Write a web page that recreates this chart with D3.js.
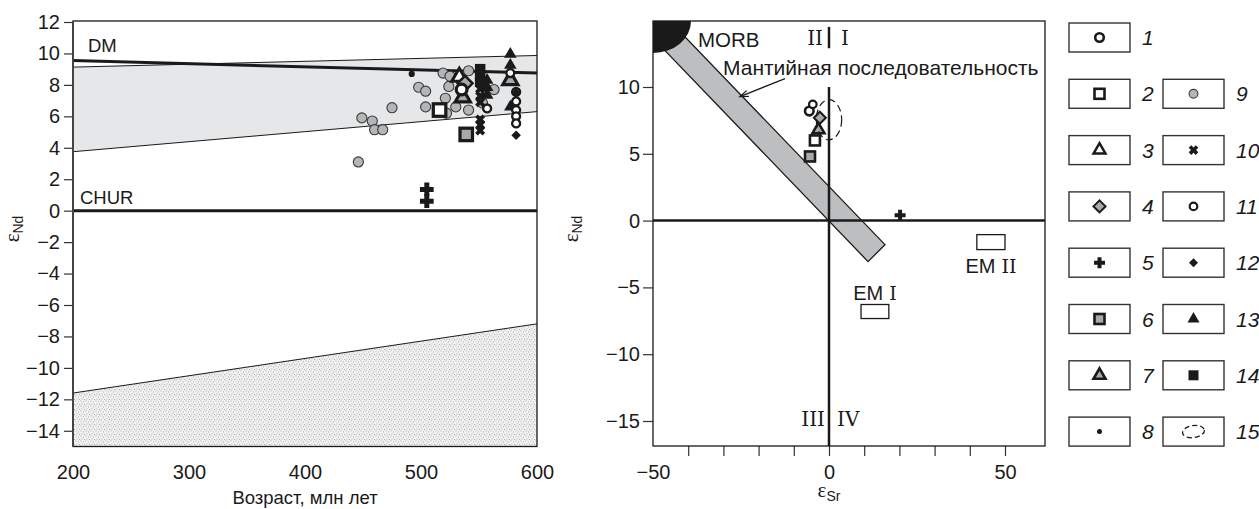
<!DOCTYPE html>
<html><head><meta charset="utf-8">
<script src="https://cdn.jsdelivr.net/npm/d3@7"></script>
<style>body{margin:0;background:#fff}</style>
</head><body>
<svg id="c" width="1259" height="509"></svg>
<script>
// ---------- data ----------
const leftYTicks = [12,10,8,6,4,2,0,-2,-4,-6,-8,-10,-12,-14];
const leftXTicks = [200,300,400,500,600];
const rightYTicks = [10,5,0,-5,-10,-15];
const rightXTicks = [-50,-40,-30,-20,-10,0,10,20,30,40,50];
const rightXLabels = [-50,0,50];

const dmLine = [[200,9.55],[600,8.75]];
const bandUpper = [[200,9.13],[600,9.87]];
const bandLower = [[200,3.75],[600,6.3]];
const crustUpper = [[200,-11.6],[600,-7.2]];
const churLine = [[200,0],[600,0]];

const ageEps1 = [[535,7.7]];
const ageEps2 = [[516,6.4]];
const ageEps3 = [[533,8.5]];
const ageEps4 = [[538,8.1]];
const ageEps5 = [[505,1.35],[505,0.6]];
const ageEps6 = [[539,4.85]];
const ageEps7 = [[536,7.2],[577,8.3]];
const ageEps8 = [[492,8.7]];
const ageEps9 = [[449,5.9],[458,5.7],[460,5.15],[467,5.15],[446,3.1],[475,6.55],[498,7.85],[504,7.6],[519,8.75],[525,8.55],[541,8.9],[524,7.9],[521,7.15],[504,6.6],[530,6.6],[522,6.2],[541,6.4],[563,7.7],[553,6.85]];
const ageEps10 = [[551,7.75],[551,7.3],[551,6.9],[551,5.8],[551,5.45],[551,5.1]];
const ageEps11 = [[557,6.5],[577,8.75],[582,7.55],[582,6.95],[582,6.4],[582,6.0],[582,5.55]];
const ageEps12 = [[582,7.5],[582,4.8]];
const ageEps13 = [[577,9.95],[577,9.25],[577,6.6],[557,8.3],[557,7.85],[557,7.35]];
const ageEps14 = [[551,9.0],[551,8.6],[551,8.2]];

const mantleArray = [[-56,15.3],[11.1,-3.07],[15.9,-1.8],[-50,16.24]];
const morb = [[-50,14.94]];       // centre of MORB field
const morbRadius = [10.8,2.4];    // in data units
const vLineSegments = [[14.5,12.9],[10.0,-16.87]];
const emBoxes = [[9.1,17,-6.28,-7.33],[42,50,-1.05,-2.17]];
const emNames = [["EM"," I"],["EM"," II"]];
const arrowFromTo = [[-12.5,10.63],[-25.3,9.28]];

const srNd1 = [[-5.6,8.2]];
const srNd2 = [[-4.0,6.0]];
const srNd4 = [[-2.6,7.7]];
const srNd5 = [[20.2,0.4]];
const srNd6 = [[-5.4,4.8]];
const srNd7 = [[-3.0,6.8]];
const srNd11 = [[-4.6,8.7]];
const srNd15 = [[0,7.55]];
const srNd15Radius = [3.6,1.5];

const legendLabels = ["1","2","3","4","5","6","7","8","9","10","11","12","13","14","15"];

// ---------- drawing ----------
const svg = d3.select('#c');
const sans = '"Liberation Sans", Arial, sans-serif';
const serif = '"Liberation Serif", "Times New Roman", serif';
const rserif = '"DejaVu Serif", "Liberation Serif", serif';
const S = '#1a1a1a', G = '#a7a9ac';
const defs = svg.append('defs');

const pat = defs.append('pattern').attr('id','stip').attr('width',5).attr('height',5).attr('patternUnits','userSpaceOnUse');
pat.append('rect').attr('width',5).attr('height',5).attr('fill','#f2f2f2');
[[0.5,0.5],[3,1.5],[1.5,3.5],[4,4]].forEach(p=>pat.append('rect').attr('x',p[0]).attr('y',p[1]).attr('width',0.9).attr('height',0.9).attr('fill','#9a9a9a'));

function tri(s){const h=s*0.866;return `M0,${-2*h/3}L${s/2},${h/3}L${-s/2},${h/3}Z`;}
function drawMark(g,t,cx,cy,k){
  const gg = g.append('g').attr('transform',`translate(${cx},${cy})`);
  switch(t){
    case 1: gg.append('circle').attr('r',4.3*k).attr('fill','#fff').attr('stroke',S).attr('stroke-width',2.6*k); break;
    case 2: gg.append('rect').attr('x',-5*k).attr('y',-5*k).attr('width',10*k).attr('height',10*k).attr('fill','#fff').attr('stroke',S).attr('stroke-width',2.6*k); break;
    case 3: gg.append('path').attr('d',tri(12*k)).attr('fill','#fff').attr('stroke',S).attr('stroke-width',2.4*k).attr('stroke-linejoin','miter'); break;
    case 4: gg.append('path').attr('d',`M0,${-6*k}L${6*k},0L0,${6*k}L${-6*k},0Z`).attr('fill',G).attr('stroke',S).attr('stroke-width',2*k); break;
    case 5: { const a=5.5*k,b=2*k; gg.append('path').attr('d',`M${-b},${-a}H${b}V${-b}H${a}V${b}H${b}V${a}H${-b}V${b}H${-a}V${-b}H${-b}Z`).attr('fill',S); break; }
    case 6: gg.append('rect').attr('x',-5*k).attr('y',-5*k).attr('width',10*k).attr('height',10*k).attr('fill',G).attr('stroke',S).attr('stroke-width',2.6*k); break;
    case 7: gg.append('path').attr('d',tri(12*k)).attr('fill',G).attr('stroke',S).attr('stroke-width',2.6*k); break;
    case 8: gg.append('circle').attr('r',2.5*k).attr('fill',S); break;
    case 9: gg.append('circle').attr('r',4.4*k).attr('fill','#b4b5b7').attr('stroke','#3a3a3a').attr('stroke-width',1.1); break;
    case 10: { const a=5*k,b=1.8*k; gg.append('path').attr('transform','rotate(45)').attr('d',`M${-b},${-a}H${b}V${-b}H${a}V${b}H${b}V${a}H${-b}V${b}H${-a}V${-b}H${-b}Z`).attr('fill',S); break; }
    case 11: gg.append('circle').attr('r',3.8*k).attr('fill','#fff').attr('stroke',S).attr('stroke-width',2.2*k); break;
    case 12: gg.append('path').attr('d',`M0,${-4.5*k}L${4.5*k},0L0,${4.5*k}L${-4.5*k},0Z`).attr('fill',S); break;
    case 13: gg.append('path').attr('d',tri(12*k)).attr('fill',S); break;
    case 14: gg.append('rect').attr('x',-5*k).attr('y',-5*k).attr('width',10*k).attr('height',10*k).attr('fill',S); break;
    case 15: gg.append('ellipse').attr('rx',11*k).attr('ry',6*k).attr('fill','none').attr('stroke',S).attr('stroke-width',1.3).attr('stroke-dasharray','5,3').attr('transform','rotate(-8)'); break;
  }
}

// ===== LEFT CHART =====
const xL = d3.scaleLinear([200,600],[73,537]);
const yL = d3.scaleLinear([-15,12],[446.5,22]);
defs.append('clipPath').attr('id','clipL').append('rect').attr('x',73).attr('y',21).attr('width',464).attr('height',425.5);
const gL = svg.append('g');
const pL = gL.append('g').attr('clip-path','url(#clipL)');
const line = d3.line().x(d=>xL(d[0])).y(d=>yL(d[1]));

pL.append('path').attr('d', line(bandUpper.concat(bandLower.slice().reverse()))+'Z').attr('fill','#e6e7e8');
pL.append('path').attr('d', line(bandUpper)).attr('stroke',S).attr('stroke-width',1).attr('fill','none');
pL.append('path').attr('d', line(bandLower)).attr('stroke',S).attr('stroke-width',1).attr('fill','none');
pL.append('path').attr('d', line(crustUpper.concat([[600,-15.5],[200,-15.5]]))+'Z').attr('fill','url(#stip)');
pL.append('path').attr('d', line(crustUpper)).attr('stroke',S).attr('stroke-width',1).attr('fill','none');
pL.append('path').attr('d', line(dmLine)).attr('stroke',S).attr('stroke-width',3).attr('fill','none');
pL.append('path').attr('d', line(churLine)).attr('stroke',S).attr('stroke-width',3).attr('fill','none');

const leftSeries = [[9,ageEps9],[8,ageEps8],[5,ageEps5],[6,ageEps6],[2,ageEps2],[3,ageEps3],[4,ageEps4],[7,ageEps7],[1,ageEps1],[14,ageEps14],[10,ageEps10],[13,ageEps13],[11,ageEps11],[12,ageEps12]];
leftSeries.forEach(([t,arr])=>arr.forEach(d=>drawMark(pL,t,xL(d[0]),yL(d[1]),t===9?1.15:(t>=10?1.05:1.25))));

gL.append('text').attr('x',88).attr('y',52).text('DM').attr('font-family',sans).attr('font-size',18.5).attr('fill',S);
gL.append('text').attr('x',80).attr('y',204).text('CHUR').attr('font-family',sans).attr('font-size',18.5).attr('fill',S);

const axL = gL.append('g').attr('transform','translate(73,0)').call(d3.axisLeft(yL).tickValues(leftYTicks).tickSize(9).tickPadding(4));
const axB = gL.append('g').attr('transform','translate(0,446.5)').call(d3.axisBottom(xL).tickValues(leftXTicks).tickSize(0).tickPadding(18));
[axL,axB].forEach(a=>{a.select('.domain').remove();a.selectAll('text').attr('font-family',sans).attr('font-size',20).attr('fill',S);a.selectAll('line').attr('stroke','#333').attr('stroke-width',1.2);});
gL.append('rect').attr('x',73).attr('y',21).attr('width',464).attr('height',425.5).attr('fill','none').attr('stroke',S).attr('stroke-width',1.3);
gL.append('line').attr('x1',73).attr('x2',73).attr('y1',21).attr('y2',446.5).attr('stroke','#444').attr('stroke-width',2);

gL.append('text').attr('x',305).attr('y',504).attr('text-anchor','middle').attr('font-family',sans).attr('font-size',18.5).attr('fill',S).text('Возраст, млн лет');
const tl = gL.append('text').attr('transform','translate(19,229) rotate(-90)').attr('text-anchor','middle').attr('fill',S);
tl.append('tspan').attr('font-family',serif).attr('font-size',21).text('ε');
tl.append('tspan').attr('font-family',sans).attr('font-size',14).attr('dy',4).text('Nd');

// ===== RIGHT CHART =====
const xR = d3.scaleLinear([-50,50],[653,1005]);
const yR = d3.scaleLinear([-15,10],[421,87]);
const fx0 = 653, fx1 = 1045, fy0 = 21, fy1 = 446;
defs.append('clipPath').attr('id','clipR').append('rect').attr('x',fx0).attr('y',fy0).attr('width',fx1-fx0).attr('height',fy1-fy0);
const gR = svg.append('g');
const pR = gR.append('g').attr('clip-path','url(#clipR)');
const lineR = d3.line().x(d=>xR(d[0])).y(d=>yR(d[1]));

pR.append('path').attr('d', lineR(mantleArray)+'Z').attr('fill','#bcbec0').attr('stroke',S).attr('stroke-width',1.3);
morb.forEach(d=>pR.append('ellipse').attr('cx',xR(d[0])).attr('cy',yR(d[1]))
  .attr('rx',xR(d[0]+morbRadius[0])-xR(d[0])).attr('ry',yR(d[1]-morbRadius[1])-yR(d[1])).attr('fill',S));

pR.append('line').attr('x1',fx0).attr('x2',fx1).attr('y1',yR(0)).attr('y2',yR(0)).attr('stroke',S).attr('stroke-width',2.5);
vLineSegments.forEach(s=>pR.append('line').attr('x1',xR(0)).attr('x2',xR(0)).attr('y1',yR(s[0])).attr('y2',yR(s[1])).attr('stroke',S).attr('stroke-width',2.5));

emBoxes.forEach(b=>pR.append('rect').attr('x',xR(b[0])).attr('y',yR(b[2])).attr('width',xR(b[1])-xR(b[0])).attr('height',yR(b[3])-yR(b[2])).attr('fill','#fff').attr('stroke',S).attr('stroke-width',1.3));

function emLabel(x,y,parts){
  const t = gR.append('text').attr('x',x).attr('y',y).attr('text-anchor','middle').attr('fill',S).attr('font-size',20);
  t.append('tspan').attr('font-family',sans).text(parts[0]);
  t.append('tspan').attr('font-family',rserif).attr('font-size',19).text(parts[1]);
}
emLabel(xR((emBoxes[0][0]+emBoxes[0][1])/2), yR(emBoxes[0][2])-5, emNames[0]);
emLabel(xR((emBoxes[1][0]+emBoxes[1][1])/2), yR(emBoxes[1][3])+23, emNames[1]);

gR.append('text').attr('x',698).attr('y',47).attr('font-family',sans).attr('font-size',20.5).attr('fill',S).text('MORB');
function roman(x,y,txt,anchor){
  gR.append('text').attr('x',x).attr('y',y).attr('text-anchor',anchor).attr('font-family',rserif).attr('font-size',20).attr('fill',S).text(txt);
}
roman(xR(0)-6,45,'II','end');
roman(xR(0)+12,45,'I','start');
roman(xR(0)-4,426,'III','end');
roman(xR(0)+8,426,'IV','start');
gR.append('text').attr('x',723).attr('y',75).attr('font-family',sans).attr('font-size',21).attr('fill',S).text('Мантийная последовательность');

// arrow
{
  const a0=[xR(arrowFromTo[0][0]),yR(arrowFromTo[0][1])], a1=[xR(arrowFromTo[1][0]),yR(arrowFromTo[1][1])];
  gR.append('line').attr('x1',a0[0]).attr('y1',a0[1]).attr('x2',a1[0]).attr('y2',a1[1]).attr('stroke',S).attr('stroke-width',1.3);
  const ang = Math.atan2(a0[1]-a1[1],a0[0]-a1[0]);
  const L=9, sp=0.35;
  const p1=[a1[0]+L*Math.cos(ang+sp),a1[1]+L*Math.sin(ang+sp)], p2=[a1[0]+L*Math.cos(ang-sp),a1[1]+L*Math.sin(ang-sp)];
  gR.append('path').attr('d',`M${p1}L${a1}L${p2}`).attr('fill','none').attr('stroke',S).attr('stroke-width',1.3);
}

const rightSeries = [[6,srNd6],[2,srNd2],[7,srNd7],[4,srNd4],[1,srNd1],[11,srNd11],[5,srNd5]];
rightSeries.forEach(([t,arr])=>arr.forEach(d=>drawMark(pR,t,xR(d[0]),yR(d[1]),1)));
srNd15.forEach(d=>pR.append('ellipse').attr('cx',xR(d[0])).attr('cy',yR(d[1]))
  .attr('rx',xR(d[0]+srNd15Radius[0])-xR(d[0])).attr('ry',yR(d[1]-srNd15Radius[1])-yR(d[1]))
  .attr('fill','none').attr('stroke',S).attr('stroke-width',1.2).attr('stroke-dasharray','7,4'));

const axRL = gR.append('g').attr('transform',`translate(${fx0},0)`).call(d3.axisLeft(yR).tickValues(rightYTicks).tickSize(10).tickPadding(3));
const axRB = gR.append('g').attr('transform',`translate(0,${fy1})`).call(d3.axisBottom(xR).tickValues(rightXTicks).tickSize(10).tickPadding(9).tickFormat(d=>rightXLabels.includes(d)?d3.format('d')(d):''));
axRB.selectAll('.tick').filter(d=>d===-50).select('line').remove();
[axRL,axRB].forEach(a=>{a.select('.domain').remove();a.selectAll('text').attr('font-family',sans).attr('font-size',20).attr('fill',S);a.selectAll('line').attr('stroke','#333').attr('stroke-width',1.2);});
gR.append('rect').attr('x',fx0).attr('y',fy0).attr('width',fx1-fx0).attr('height',fy1-fy0).attr('fill','none').attr('stroke',S).attr('stroke-width',1.3);

const tr = gR.append('text').attr('transform','translate(578,229) rotate(-90)').attr('text-anchor','middle').attr('fill',S);
tr.append('tspan').attr('font-family',serif).attr('font-size',21).text('ε');
tr.append('tspan').attr('font-family',sans).attr('font-size',14).attr('dy',4).text('Nd');
const tb = gR.append('text').attr('x',829).attr('y',497).attr('text-anchor','middle').attr('fill',S);
tb.append('tspan').attr('font-family',serif).attr('font-size',21).text('ε');
tb.append('tspan').attr('font-family',sans).attr('font-size',14).attr('dy',4).text('Sr');

// ===== LEGEND =====
const gLeg = svg.append('g');
legendLabels.forEach((lab,i)=>{
  const t = i+1;
  const col = t<=8?0:1;
  const row = t<=8?i:(t-8);
  const bx = col===0?1069:1163, by = 23+row*56.3;
  gLeg.append('rect').attr('x',bx).attr('y',by).attr('width',61).attr('height',29).attr('fill','#fff').attr('stroke','#333').attr('stroke-width',1.4);
  drawMark(gLeg,t,bx+30.5,by+14.5,1);
  gLeg.append('text').attr('x',bx+73).attr('y',by+22).attr('font-family',sans).attr('font-style','italic').attr('font-size',21).attr('fill',S).text(lab);
});
</script>
</body></html>
